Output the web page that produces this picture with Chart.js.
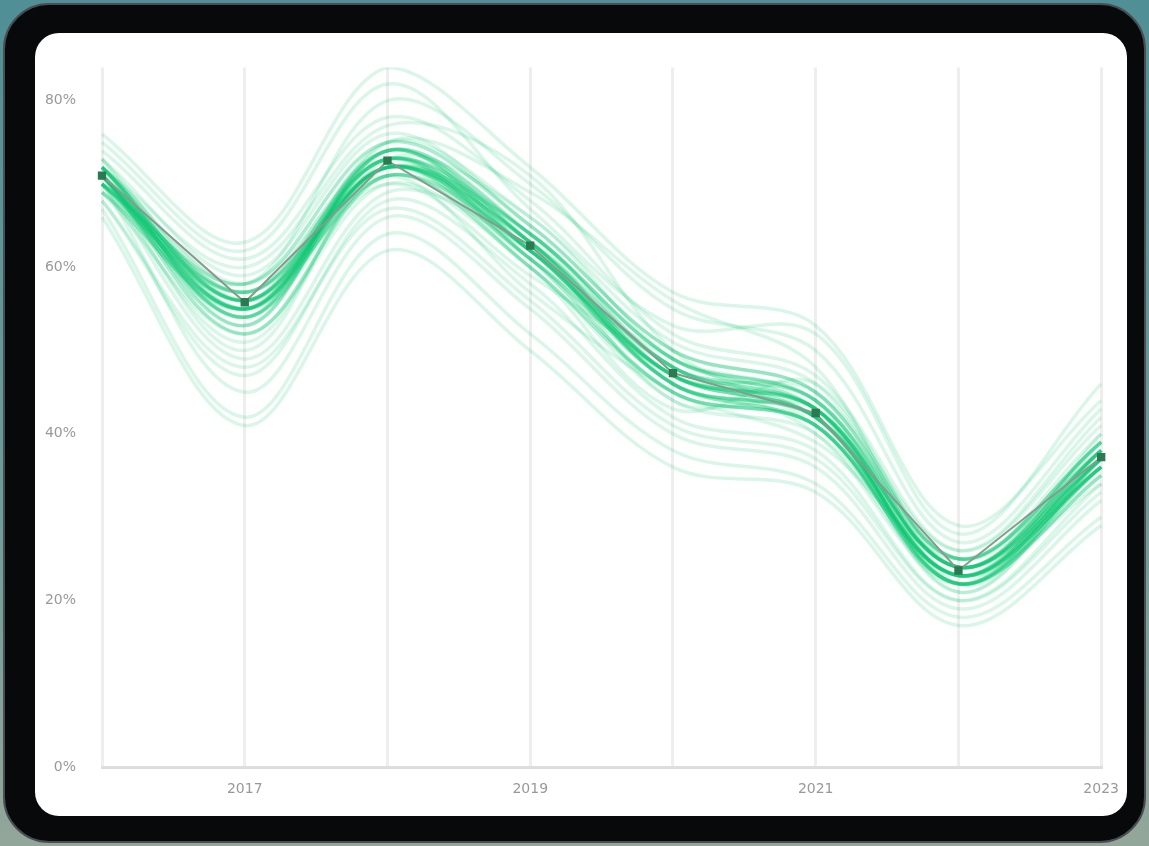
<!DOCTYPE html>
<html>
<head>
<meta charset="utf-8">
<script src="https://cdn.jsdelivr.net/npm/chart.js@4/dist/chart.umd.min.js"></script>
<style>
  html, body { margin: 0; padding: 0; }
  body {
    width: 1149px; height: 846px; overflow: hidden; position: relative;
    background: linear-gradient(180deg, #4f8f95 0%, #6f9c98 60%, #93a69a 100%);
  }
  #frame {
    position: absolute; left: 3px; top: 3px; width: 1139px; height: 836px;
    background: #08090b; border: 2px solid #4a4d52; border-radius: 46px;
  }
  #screen {
    position: absolute; left: 35px; top: 33px; width: 1092px; height: 783px;
    background: #fff; border-radius: 24px; overflow: hidden;
  }
  #screen canvas { display: block; }
</style>
</head>
<body>
<div id="frame"></div>
<div id="screen"><canvas id="chart" width="1098" height="783"></canvas></div>
<script>
// years on the x axis, labels shown every other year
const years = ['2016', '2017', '2018', '2019', '2020', '2021', '2022', '2023'];
const shownYears = ['2017', '2019', '2021', '2023'];

// the main (median) series, in percent
const median = [71, 55.8, 72.8, 62.6, 47.3, 42.5, 23.6, 37.2];

// the faint ensemble runs, wide spread
const run01 = [72, 57, 74, 63, 48, 43, 24, 38];
const run02 = [70, 54, 71, 61, 46, 41, 23, 36];
const run03 = [73, 59, 76, 65, 50, 45, 25, 40];
const run04 = [69, 52, 70, 60, 44, 40, 22, 35];
const run05 = [71, 50, 73, 66, 49, 44, 21, 37];
const run06 = [74, 61, 78, 68, 52, 47, 26, 41];
const run07 = [68, 47, 68, 58, 42, 38, 20, 33];
const run08 = [72, 58, 80, 70, 55, 50, 27, 43];
const run09 = [70, 45, 66, 55, 40, 36, 19, 32];
const run10 = [75, 62, 82, 67, 53, 52, 28, 46];
const run11 = [67, 42, 64, 52, 38, 34, 18, 30];
const run12 = [71, 56, 72, 60, 43, 46, 24, 39];
const run13 = [73, 53, 75, 69, 56, 48, 22, 36];
const run14 = [69, 57, 71, 57, 45, 39, 25, 38];
const run15 = [72, 60, 77, 71, 50, 41, 23, 34];
const run16 = [70, 49, 69, 62, 47, 45, 26, 42];
const run17 = [76, 63, 84, 72, 57, 53, 29, 44];
const run18 = [66, 41, 62, 50, 36, 33, 17, 29];
const run19 = [71, 55, 74, 64, 46, 42, 21, 37];
const run20 = [72, 58, 73, 61, 49, 44, 24, 39];
const run21 = [70, 51, 72, 63, 44, 43, 23, 36];
const run22 = [73, 56, 70, 59, 48, 40, 22, 40];
const run23 = [71, 54, 75, 66, 51, 46, 25, 38];
const run24 = [68, 48, 67, 56, 41, 37, 20, 34];

// the runs close to the median (the dense core)
const run25 = [71, 56, 73, 63, 47, 43, 24, 37];
const run26 = [70, 55, 72, 62, 48, 42, 23, 38];
const run27 = [72, 56, 74, 63, 46, 42, 24, 36];
const run28 = [71, 54, 72, 61, 47, 43, 22, 37];
const run29 = [70, 57, 73, 64, 49, 44, 25, 39];
const run30 = [72, 55, 71, 62, 46, 41, 23, 37];
const run31 = [71, 53, 74, 62, 47, 42, 23, 36];
const run32 = [71, 57, 72, 63, 48, 43, 24, 38];
const run33 = [69, 55, 73, 61, 45, 41, 22, 36];
const run34 = [72, 56, 72, 64, 48, 44, 24, 38];
const run35 = [71, 55, 73, 62, 47, 42, 23, 37];
const run36 = [70, 56, 72, 63, 47, 43, 24, 37];
const run37 = [72, 54, 74, 64, 49, 43, 22, 38];
const run38 = [71, 52, 71, 60, 45, 41, 22, 35];
const run39 = [70, 58, 75, 65, 50, 45, 25, 39];
const run40 = [71, 55, 72, 62, 46, 42, 23, 36];

const outerRuns = [run01, run02, run03, run04, run05, run06, run07, run08, run09, run10, run11, run12,
                   run13, run14, run15, run16, run17, run18, run19, run20, run21, run22, run23, run24];
const coreRuns = [run25, run26, run27, run28, run29, run30, run31, run32,
                  run33, run34, run35, run36, run37, run38, run39, run40];

function runDataset(r, i, color) {
    return {
        label: 'run ' + (i + 1),
        data: r,
        borderColor: color,
        borderWidth: 3.5,
        pointRadius: 0,
        tension: 0.35,
        fill: false,
        order: 2
    };
}

let datasets = outerRuns.map((r, i) => runDataset(r, i, 'rgba(0, 196, 108, 0.15)'))
    .concat(coreRuns.map((r, i) => runDataset(r, i + 24, 'rgba(0, 196, 108, 0.32)')));

datasets.push({
    label: 'median',
    data: median,
    borderColor: '#8a9990',
    borderWidth: 2,
    pointRadius: 4.5,
    pointStyle: 'rect',
    pointBackgroundColor: '#2d7a52',
    pointBorderColor: '#2d7a52',
    tension: 0,
    fill: false,
    order: 1
});

const config = {
    type: 'line',
    data: { labels: years, datasets: datasets },
    options: {
        responsive: false,
        animation: false,
        layout: { padding: { top: 17, right: 20, left: 0, bottom: 0 } },
        plugins: { legend: { display: false }, tooltip: { enabled: false } },
        scales: {
            x: {
                offset: false,
                grid: { color: '#eeeeee', lineWidth: 3, drawTicks: false },
                border: { color: '#dddddd', width: 3 },
                ticks: {
                    color: '#999999',
                    font: { family: 'DejaVu Sans', size: 14 },
                    padding: 14,
                    autoSkip: false,
                    maxRotation: 0,
                    callback: function (v) {
                        let y = this.getLabelForValue(v);
                        return shownYears.includes(y) ? y : '';
                    }
                },
                afterFit: s => { s.height = 49; }
            },
            y: {
                min: 0,
                max: 84,
                grid: { display: false, drawTicks: false },
                border: { display: false },
                ticks: {
                    stepSize: 20,
                    color: '#999999',
                    font: { family: 'DejaVu Sans', size: 14 },
                    padding: 26,
                    callback: v => (v % 20 === 0 ? v + '%' : '')
                },
                afterFit: s => { s.width = 67; }
            }
        }
    }
};

let ctx = document.getElementById('chart').getContext('2d');
new Chart(ctx, config);
</script>
</body>
</html>
